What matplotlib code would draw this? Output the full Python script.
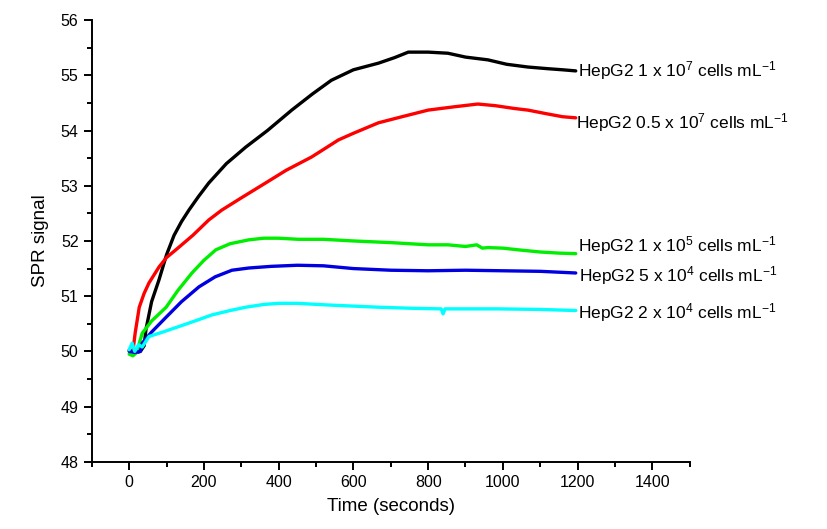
import matplotlib
matplotlib.use("Agg")
import matplotlib.pyplot as plt
from matplotlib.ticker import MultipleLocator

plt.rcParams["font.family"] = ["Liberation Sans", "DejaVu Sans"]
plt.rcParams["mathtext.default"] = "regular"

# SPR signal traces (time in s, signal)
t_black = [0, 10, 20, 30, 40, 45, 60, 80, 100, 120, 140, 160, 185, 213, 260, 312, 370, 435,
           490, 541, 600, 667, 710, 747, 800, 853, 900, 960, 1010, 1067, 1120, 1160, 1195]
v_black = [50.02, 50.0, 49.98, 50.0, 50.1, 50.4, 50.9, 51.3, 51.75, 52.1, 52.35, 52.56,
           52.8, 53.05, 53.4, 53.7, 54.0, 54.37, 54.66, 54.91, 55.1, 55.22, 55.32, 55.42,
           55.42, 55.40, 55.33, 55.28, 55.2, 55.15, 55.12, 55.1, 55.08]

t_red = [10, 16, 27, 40, 53, 80, 100, 125, 170, 213, 248, 300, 365, 420, 488, 530, 560, 600,
         667, 730, 800, 870, 933, 980, 1030, 1067, 1120, 1160, 1195]
v_red = [50.0, 50.33, 50.8, 51.05, 51.24, 51.53, 51.7, 51.84, 52.1, 52.38, 52.56, 52.78,
         53.05, 53.28, 53.52, 53.7, 53.83, 53.95, 54.14, 54.25, 54.37, 54.43, 54.48, 54.45,
         54.4, 54.37, 54.3, 54.25, 54.23]

t_green = [0, 10, 20, 35, 60, 99, 130, 168, 200, 232, 270, 320, 360, 400, 453, 520, 600,
           700, 800, 853, 900, 930, 945, 960, 1000, 1040, 1100, 1150, 1195]
v_green = [49.95, 49.92, 49.98, 50.33, 50.55, 50.8, 51.1, 51.42, 51.65, 51.84, 51.95, 52.02,
           52.05, 52.05, 52.03, 52.03, 52.0, 51.97, 51.93, 51.93, 51.9, 51.93, 51.87, 51.88,
           51.87, 51.84, 51.8, 51.78, 51.77]

t_blue = [0, 15, 30, 35, 60, 99, 140, 187, 230, 275, 320, 380, 450, 520, 600, 700, 800,
          900, 1000, 1100, 1195]
v_blue = [50.0, 49.98, 50.0, 50.15, 50.35, 50.62, 50.9, 51.17, 51.35, 51.47, 51.51, 51.54,
          51.56, 51.55, 51.5, 51.47, 51.46, 51.47, 51.46, 51.45, 51.42]

t_cyan = [0, 8, 15, 25, 35, 53, 90, 133, 180, 221, 270, 312, 360, 400, 450, 533, 600, 667,
          760, 835, 840, 845, 900, 987, 1100, 1195]
v_cyan = [50.03, 50.15, 50.0, 50.12, 50.08, 50.27, 50.35, 50.45, 50.56, 50.66, 50.74, 50.8,
          50.85, 50.87, 50.87, 50.84, 50.82, 50.80, 50.78, 50.77, 50.68, 50.77, 50.77, 50.77,
          50.76, 50.74]

labels = [
    "HepG2 1 x 10$^{7}$ cells mL$^{-1}$",
    "HepG2 0.5 x 10$^{7}$ cells mL$^{-1}$",
    "HepG2 1 x 10$^{5}$ cells mL$^{-1}$",
    "HepG2 5 x 10$^{4}$ cells mL$^{-1}$",
    "HepG2 2 x 10$^{4}$ cells mL$^{-1}$",
]
label_y = [55.08, 54.14, 51.91, 51.37, 50.70]
label_x = [1200, 1195, 1200, 1205, 1200]

series = [
    (t_black, v_black, "black"),
    (t_red, v_red, "#ff0000"),
    (t_green, v_green, "#00ee00"),
    (t_blue, v_blue, "#0000e0"),
    (t_cyan, v_cyan, "#00ffff"),
]

fig = plt.figure(figsize=(8.27, 5.29), dpi=100)
ax = fig.add_axes([0.111, 0.127, 0.723, 0.835])

for t, v, c in series:
    ax.plot(t, v, color=c, lw=2.4, solid_capstyle="round", solid_joinstyle="round")

for x, y, lab in zip(label_x, label_y, labels):
    ax.text(x, y, lab, fontsize=12.5, va="center", ha="left")

ax.set_xlim(-100, 1500)
ax.set_ylim(48, 56)
ax.xaxis.set_major_locator(MultipleLocator(200))
ax.xaxis.set_minor_locator(MultipleLocator(100))
ax.yaxis.set_major_locator(MultipleLocator(1))
ax.yaxis.set_minor_locator(MultipleLocator(0.5))

for side in ["top", "right"]:
    ax.spines[side].set_visible(False)
for side in ["left", "bottom"]:
    ax.spines[side].set_linewidth(1.4)

ax.tick_params(which="major", direction="out", length=6, width=1.4, labelsize=11.5)
ax.tick_params(which="minor", direction="out", length=3.5, width=1.4)

ax.set_xlabel("Time (seconds)", fontsize=13.5, labelpad=6)
ax.set_ylabel("SPR signal", fontsize=13.5, labelpad=8)

fig.savefig("out.png", dpi=100)
